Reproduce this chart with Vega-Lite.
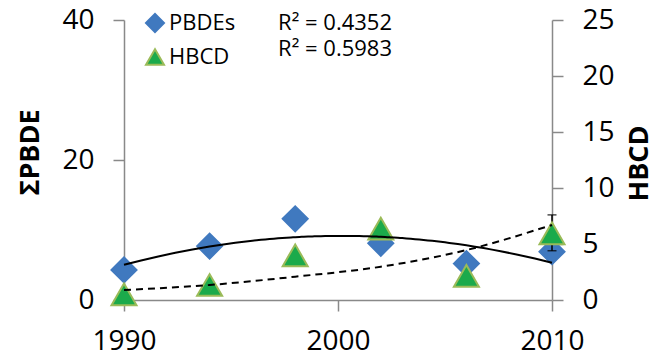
{
  "$schema": "https://vega.github.io/schema/vega-lite/v6.json",
  "width": 428,
  "height": 280,
  "autosize": {"type": "none"},
  "padding": {"left": 124, "top": 20, "right": 102, "bottom": 56},
  "config": {
    "font": "Open Sans",
    "view": {"stroke": null},
    "axis": {
      "grid": false,
      "domainColor": "#898989",
      "tickColor": "#898989",
      "domainWidth": 1.5,
      "tickWidth": 1.5,
      "tickSize": 11,
      "labelFont": "Open Sans",
      "labelFontSize": 28,
      "labelColor": "#000000",
      "titleFont": "Open Sans",
      "titleFontSize": 27,
      "titleFontWeight": "bold",
      "titleColor": "#000000"
    },
    "legend": {
      "symbolSize": 324,
      "symbolStrokeWidth": 2,
      "labelFont": "Open Sans",
      "labelFontSize": 22,
      "labelColor": "#000000",
      "labelOffset": 3,
      "rowPadding": 9,
      "padding": 0
    }
  },
  "datasets": {
    "pts": [
      {"year": 1990, "s": "PBDEs", "v": 4.3},
      {"year": 1994, "s": "PBDEs", "v": 7.7},
      {"year": 1998, "s": "PBDEs", "v": 11.6},
      {"year": 2002, "s": "PBDEs", "v": 8.1},
      {"year": 2006, "s": "PBDEs", "v": 5.2},
      {"year": 2010, "s": "PBDEs", "v": 6.9},
      {"year": 1990, "s": "HBCD", "v": 0.5},
      {"year": 1994, "s": "HBCD", "v": 1.34},
      {"year": 1998, "s": "HBCD", "v": 3.99},
      {"year": 2002, "s": "HBCD", "v": 6.37},
      {"year": 2006, "s": "HBCD", "v": 2.16},
      {"year": 2010, "s": "HBCD", "v": 5.95}
    ],
    "hbcdTrend": [
      {"year": 1990, "v": 0.89},
      {"year": 1994, "v": 1.34},
      {"year": 1998, "v": 2.08},
      {"year": 2002, "v": 2.97},
      {"year": 2006, "v": 4.46},
      {"year": 2010, "v": 6.7}
    ],
    "err": [
      {"year": 2010, "lo": 4.4, "hi": 7.6}
    ],
    "r2": [
      {"year": 1997.2, "y": 39.6, "label": "R² = 0.4352"},
      {"year": 1997.2, "y": 35.8, "label": "R² = 0.5983"}
    ]
  },
  "encoding": {
    "x": {
      "field": "year",
      "type": "quantitative",
      "scale": {"domain": [1990, 2010], "nice": false, "zero": false},
      "axis": {"values": [1990, 2000, 2010], "format": "d", "labelPadding": 16, "labelFlush": false, "title": null}
    }
  },
  "layer": [
    {
      "data": {"name": "pts"},
      "transform": [{"filter": "datum.s === 'PBDEs'"}],
      "mark": {"type": "point", "filled": true, "size": 625, "strokeWidth": 2, "opacity": 1},
      "encoding": {
        "y": {
          "field": "v",
          "type": "quantitative",
          "scale": {"domain": [0, 40], "nice": false},
          "axis": {
            "orient": "left",
            "values": [0, 20, 40],
            "title": "ΣPBDE",
            "labelPadding": 19,
            "titleAngle": -90,
            "titleX": -94,
            "titleY": 132,
            "titleAlign": "center",
            "titleBaseline": "middle"
          }
        },
        "shape": {
          "field": "s",
          "type": "nominal",
          "scale": {"domain": ["PBDEs", "HBCD"], "range": ["diamond", "triangle-up"]},
          "legend": {"title": null, "orient": "none", "legendX": 20, "legendY": -8}
        },
        "fill": {
          "field": "s",
          "type": "nominal",
          "scale": {"domain": ["PBDEs", "HBCD"], "range": ["#4079BF", "#1BAA4B"]},
          "legend": {"title": null, "orient": "none", "legendX": 20, "legendY": -8}
        },
        "stroke": {
          "field": "s",
          "type": "nominal",
          "scale": {"domain": ["PBDEs", "HBCD"], "range": ["#4079BF", "#9BBB59"]},
          "legend": {"title": null, "orient": "none", "legendX": 20, "legendY": -8}
        }
      }
    },
    {
      "layer": [
        {
          "data": {"name": "err"},
          "mark": {"type": "errorbar", "ticks": {"size": 9}, "color": "#000000", "thickness": 1.5},
          "encoding": {
            "y": {
              "field": "lo",
              "type": "quantitative",
              "scale": {"domain": [0, 25], "nice": false},
              "axis": {
                "orient": "right",
                "values": [0, 5, 10, 15, 20, 25],
                "title": "HBCD",
                "labelPadding": 19,
                "titleAngle": -90,
                "titleX": 87,
                "titleY": 143,
                "titleAlign": "center",
                "titleBaseline": "middle"
              }
            },
            "y2": {"field": "hi"}
          }
        },
        {
          "data": {"name": "pts"},
          "transform": [{"filter": "datum.s === 'HBCD'"}],
          "mark": {"type": "point", "filled": true, "size": 625, "strokeWidth": 2, "opacity": 1},
          "encoding": {
            "y": {
              "field": "v",
              "type": "quantitative",
              "scale": {"domain": [0, 25], "nice": false},
              "axis": {
                "orient": "right",
                "values": [0, 5, 10, 15, 20, 25],
                "title": "HBCD",
                "labelPadding": 19,
                "titleAngle": -90,
                "titleX": 87,
                "titleY": 143,
                "titleAlign": "center",
                "titleBaseline": "middle"
              }
            },
            "shape": {"field": "s", "type": "nominal"},
            "fill": {"field": "s", "type": "nominal"},
            "stroke": {"field": "s", "type": "nominal"}
          }
        }
      ]
    },
    {
      "data": {"name": "pts"},
      "transform": [
        {"filter": "datum.s === 'PBDEs'"},
        {"regression": "v", "on": "year", "method": "poly", "order": 2, "extent": [1990, 2010]}
      ],
      "mark": {"type": "line", "color": "#000000", "strokeWidth": 2},
      "encoding": {
        "y": {"field": "v", "type": "quantitative", "scale": {"domain": [0, 40], "nice": false}, "axis": null}
      }
    },
    {
      "data": {"name": "hbcdTrend"},
      "mark": {"type": "line", "color": "#000000", "strokeWidth": 2, "strokeDash": [7, 5], "interpolate": "monotone"},
      "encoding": {
        "y": {"field": "v", "type": "quantitative", "scale": {"domain": [0, 25], "nice": false}, "axis": null}
      }
    },
    {
      "data": {"name": "r2"},
      "mark": {"type": "text", "align": "left", "baseline": "middle", "fontSize": 22, "font": "Open Sans", "color": "#000000"},
      "encoding": {
        "y": {"field": "y", "type": "quantitative", "scale": {"domain": [0, 40], "nice": false}, "axis": null},
        "text": {"field": "label"}
      }
    }
  ],
  "resolve": {"scale": {"y": "independent"}}
}
